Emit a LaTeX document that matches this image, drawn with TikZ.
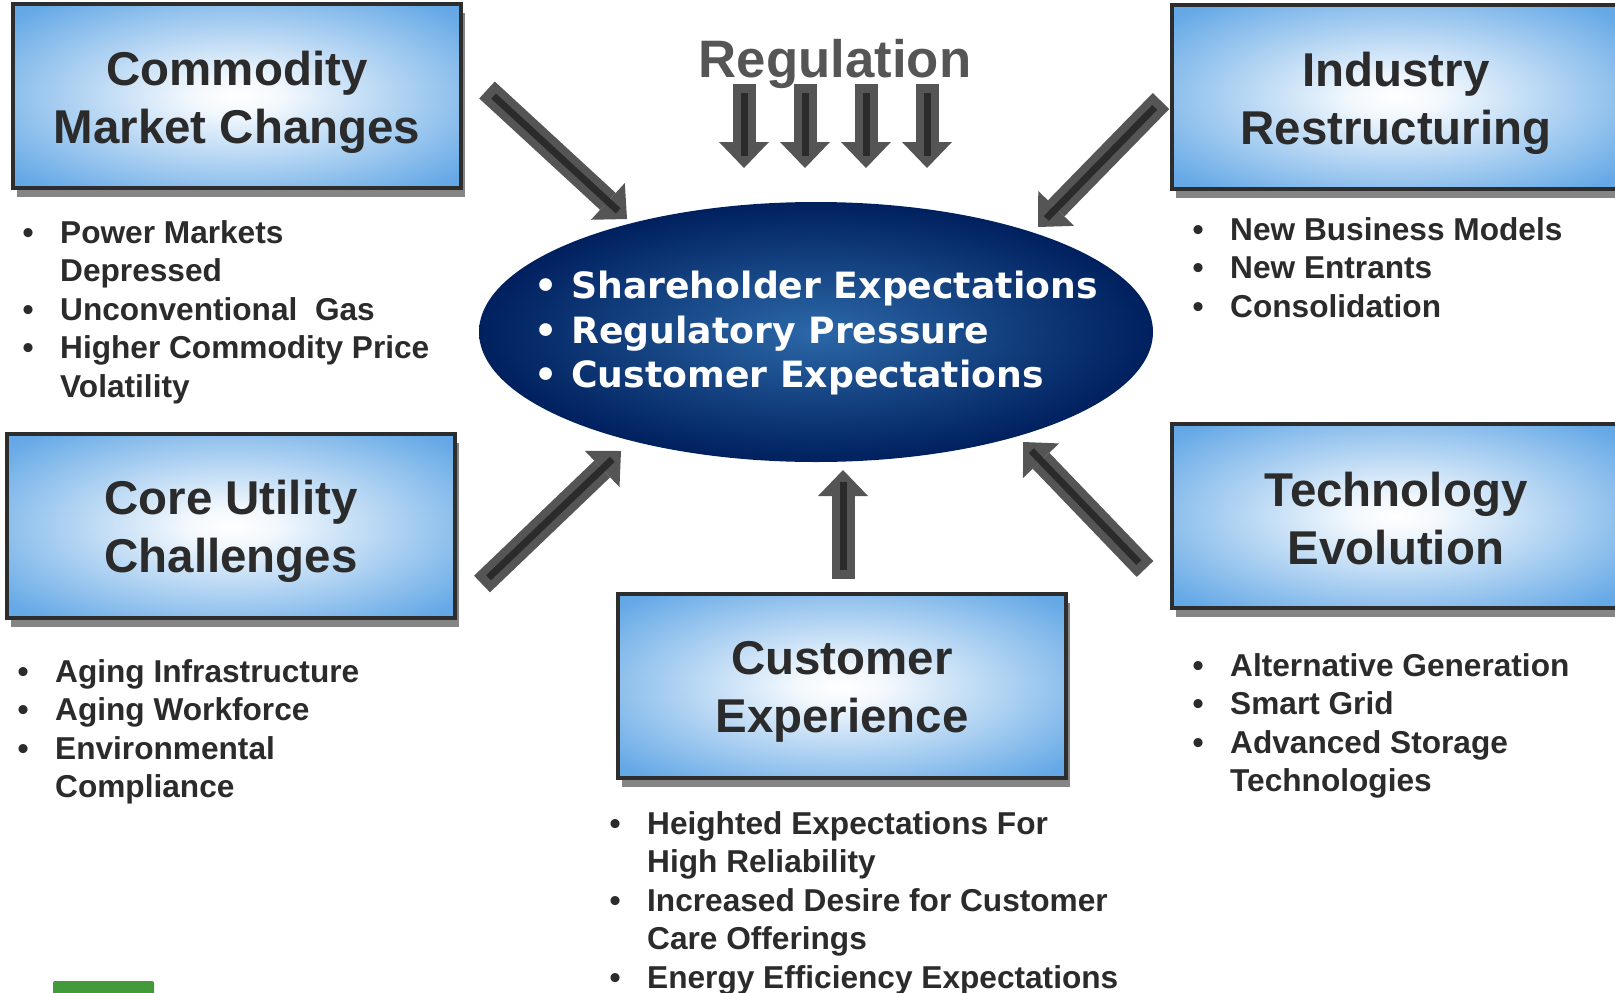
\documentclass[tikz,border=0pt]{standalone}
\usepackage{fontspec}
\setmainfont{Liberation Sans}
\newfontfamily\hubfont{DejaVu Sans}
\usetikzlibrary{shapes.geometric,arrows.meta,shadows,positioning}
\definecolor{boxblue}{HTML}{64A8E6}
\definecolor{edgegray}{HTML}{2D2D2D}
\definecolor{txtgray}{HTML}{2B2B2B}
\definecolor{arrowgray}{HTML}{555555}
\definecolor{navy}{HTML}{00205E}
\definecolor{hubblue}{HTML}{2C68A8}
\definecolor{leafgreen}{HTML}{439A3B}
\pgfdeclareradialshading{boxglow}{\pgfpoint{0bp}{0bp}}{color(0bp)=(white);
  color(5bp)=(white!92!boxblue); color(33bp)=(boxblue); color(50bp)=(boxblue)}

\begin{document}
\begin{tikzpicture}[x=0.1mm, y=-0.1mm,
  box/.style = {draw=edgegray, line width=0.45mm, shading=boxglow,
    minimum width=4.48cm, minimum height=1.84cm,
    drop shadow={shadow xshift=0.4mm, shadow yshift=-0.9mm, opacity=0.6, fill=black!80}},
  title/.style = {align=center, text=txtgray, inner sep=0pt,
    font=\bfseries\fontsize{13.5}{16.5}\selectfont},
  notes/.style = {anchor=base west, inner sep=0pt, text=txtgray,
    font=\bfseries\fontsize{9}{11}\selectfont},
  hub/.style = {ellipse, inner color=hubblue, outer color=navy, minimum width=6.74cm,
    minimum height=2.6cm, inner sep=0pt},
  hubtext/.style = {inner sep=0pt, text=white,
    font=\hubfont\bfseries\fontsize{10.3}{12.8}\selectfont},
  blockarrow/.style = {draw=arrowgray, line width=2.3mm,
    -{Triangle[width=5mm, length=2.6mm, line width=0pt]},
    postaction={draw=txtgray, line width=0.7mm, shorten >=1.2mm, shorten <=0.9mm, -}}]
  \useasboundingbox (0,0) rectangle (1615,992);

  % centre
  \node[hub] (hub) at (816,332) {};
  \node[hubtext] (hubnotes) at (816,334) {\begin{tabular}{@{}p{0.37cm}@{}l@{}}
    \textbullet & Shareholder Expectations\\
    \textbullet & Regulatory Pressure\\
    \textbullet & Customer Expectations
  \end{tabular}};

  % drivers
  \node[box] (cmc) at (237,96) {};
  \node[box] (indr) at (1396,97) {};
  \node[box] (core) at (231,526) {};
  \node[box] (tech) at (1396,516) {};
  \node[box] (custx) at (842,686) {};
  \node[title] (cmctitle) at ([yshift=-0.6mm]cmc.center) {Commodity\\Market Changes};
  \node[title] (indrtitle) at ([yshift=-0.6mm]indr.center) {Industry\\Restructuring};
  \node[title] (coretitle) at ([yshift=-0.55mm]core.center) {Core Utility\\Challenges};
  \node[title] (techtitle) at ([yshift=-0.3mm]tech.center) {Technology\\Evolution};
  \node[title] (custxtitle) at ([yshift=-0.6mm]custx.center) {Customer\\Experience};

  \node[anchor=base, text=arrowgray, font=\bfseries\fontsize{15}{15}\selectfont] (reg) at (835,77) {Regulation};

  % bullet lists
  \node[notes] (cmcnotes) at (22,243) {\begin{tabular}[t]{@{}p{0.375cm}@{}l@{}}
    \textbullet & Power Markets\\
     & Depressed\\
    \textbullet & Unconventional\ \ Gas\\
    \textbullet & Higher Commodity Price\\
     & Volatility
  \end{tabular}};
  \node[notes] (indrnotes) at (1192,240) {\begin{tabular}[t]{@{}p{0.375cm}@{}l@{}}
    \textbullet & New Business Models\\
    \textbullet & New Entrants\\
    \textbullet & Consolidation
  \end{tabular}};
  \node[notes] (corenotes) at (17,682) {\begin{tabular}[t]{@{}p{0.375cm}@{}l@{}}
    \textbullet & Aging Infrastructure\\
    \textbullet & Aging Workforce\\
    \textbullet & Environmental\\
     & Compliance
  \end{tabular}};
  \node[notes] (technotes) at (1192,676) {\begin{tabular}[t]{@{}p{0.375cm}@{}l@{}}
    \textbullet & Alternative Generation\\
    \textbullet & Smart Grid\\
    \textbullet & Advanced Storage\\
     & Technologies
  \end{tabular}};
  \node[notes] (custxnotes) at (609,834) {\begin{tabular}[t]{@{}p{0.375cm}@{}l@{}}
    \textbullet & Heighted Expectations For\\
     & High Reliability\\
    \textbullet & Increased Desire for Customer\\
     & Care Offerings\\
    \textbullet & Energy Efficiency Expectations
  \end{tabular}};

  % arrows into the centre
  \coordinate (cmcTail) at (487,90);
  \coordinate (cmcTip) at (627,219);
  \coordinate (indrTail) at (1161,101);
  \coordinate (indrTip) at (1038,227);
  \coordinate (coreTail) at (482,584);
  \coordinate (coreTip) at (621,451);
  \coordinate (custxTail) at (843,579);
  \coordinate (custxTip) at (843,470);
  \coordinate (techTail) at (1145,569);
  \coordinate (techTip) at (1023,442);
  \draw[blockarrow] (cmcTail) -- (cmcTip);
  \draw[blockarrow] (indrTail) -- (indrTip);
  \draw[blockarrow] (coreTail) -- (coreTip);
  \draw[blockarrow] (custxTail) -- (custxTip);
  \draw[blockarrow] (techTail) -- (techTip);

  \foreach \x [count=\i] in {744,805,866,927} {
    \coordinate (regTop\i) at (\x,84);
    \coordinate (regTip\i) at (\x,168);
    \draw[blockarrow] (regTop\i) -- (regTip\i);
  }

  \fill[leafgreen, rounded corners=0.2mm] (53,981) rectangle (154,1000);
\end{tikzpicture}
\end{document}
